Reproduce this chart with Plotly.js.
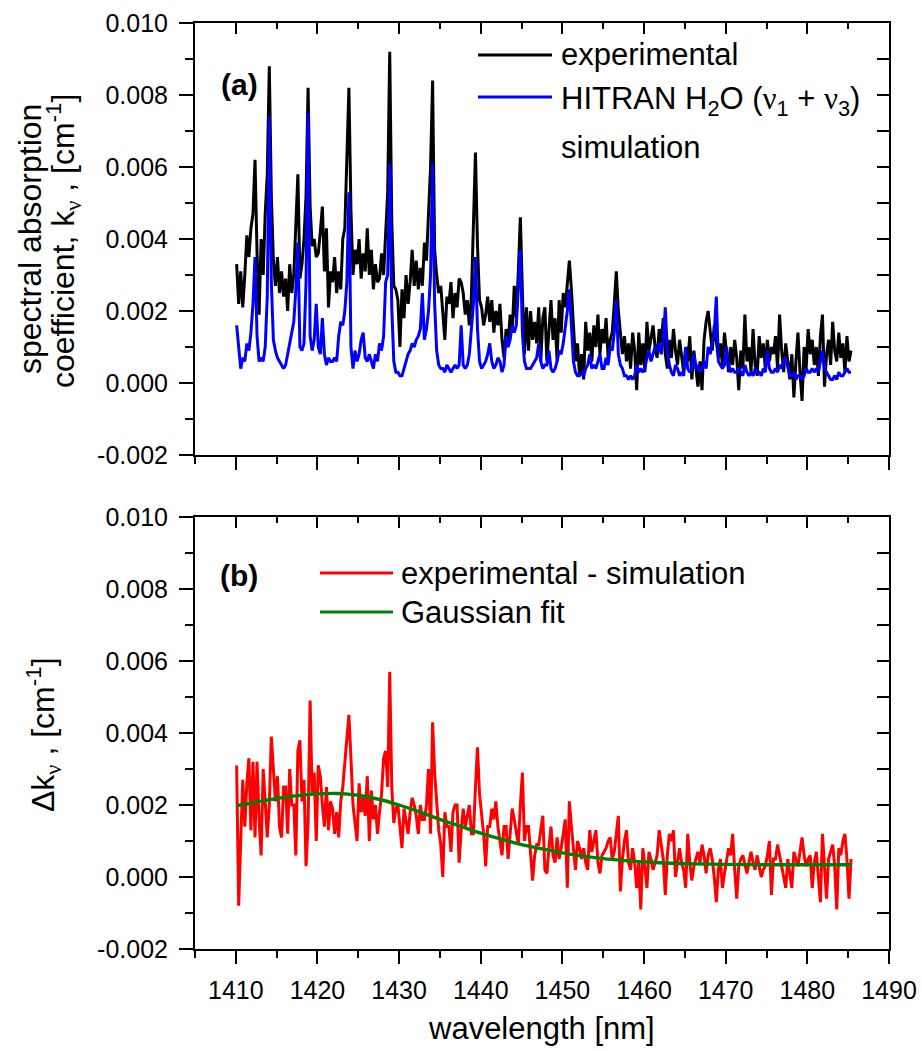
<!DOCTYPE html>
<html>
<head>
<meta charset="utf-8">
<script src="https://cdn.plot.ly/plotly-3.0.1.min.js"></script>
<style>html,body{margin:0;padding:0;background:#fff;}#chart{width:922px;height:1051px;}</style>
</head>
<body>
<div id="chart"></div>
<script>
// wavelength grid: first sample and spacing (nm)
const wlStart = 1410.1;
const wlStep = 0.25;

// (a) experimental spectral absorption coefficient [cm^-1], 4 samples per nm
const expY = [
0.0033,0.0022,0.0031,0.0021, 0.0030,0.0041,0.0035,0.0043, 0.0047,0.0062,0.0036,0.0019, 0.0040,0.0030,0.0047,0.0058,
0.0088,0.0052,0.0034,0.0027, 0.0035,0.0025,0.0031,0.0024, 0.0029,0.0020,0.0033,0.0025, 0.0030,0.0047,0.0058,0.0029,
0.0033,0.0040,0.0052,0.0082, 0.0049,0.0038,0.0040,0.0035, 0.0036,0.0042,0.0049,0.0031, 0.0043,0.0021,0.0031,0.0028,
0.0035,0.0025,0.0031,0.0026, 0.0040,0.0043,0.0060,0.0082, 0.0048,0.0030,0.0037,0.0033, 0.0040,0.0029,0.0036,0.0031,
0.0043,0.0030,0.0037,0.0026, 0.0033,0.0028,0.0029,0.0036, 0.0030,0.0044,0.0053,0.0092, 0.0045,0.0027,0.0026,0.0023,
0.0010,0.0026,0.0018,0.0030, 0.0022,0.0028,0.0037,0.0027, 0.0034,0.0026,0.0032,0.0027, 0.0039,0.0034,0.0049,0.0060,
0.0084,0.0037,0.0030,0.0025, 0.0027,0.0018,0.0012,0.0024, 0.0022,0.0028,0.0018,0.0025, 0.0021,0.0029,0.0028,0.0025,
0.0019,0.0023,0.0016,0.0024, 0.0042,0.0064,0.0038,0.0023, 0.0021,0.0016,0.0019,0.0024, 0.0017,0.0023,0.0014,0.0020,
0.0016,0.0022,0.0012,0.0007, 0.0015,0.0011,0.0019,0.0014, 0.0027,0.0018,0.0031,0.0046, 0.0025,0.0008,0.0021,0.0009,
0.0020,0.0012,0.0017,0.0011, 0.0021,0.0006,0.0018,0.0021, 0.0006,0.0015,0.0023,0.0012, 0.0018,0.0006,0.0023,0.0014,
0.0025,0.0021,0.0027,0.0034, 0.0026,0.0015,0.0006,0.0011, 0.0002,0.0008,0.0001,0.0017, 0.0009,0.0014,0.0006,0.0016,
0.0010,0.0019,0.0008,0.0015, 0.0011,0.0018,0.0007,0.0012, 0.0014,0.0022,0.0031,0.0020, 0.0014,0.0008,0.0013,0.0006,
0.0011,0.0004,0.0014,0.0009, -0.0002,0.0014,0.0005,0.0011, 0.0003,0.0017,0.0009,0.0012, 0.0016,0.0010,0.0007,0.0015,
0.0011,0.0018,0.0008,0.0004, 0.0012,0.0007,0.0015,0.0009, 0.0005,0.0012,0.0008,0.0003, 0.0010,0.0006,0.0013,0.0001,
0.0009,0.0004,-0.0001,0.0006, -0.0002,0.0012,0.0017,0.0020, 0.0014,0.0009,0.0016,0.0012, 0.0007,0.0011,0.0005,0.0014,
0.0009,0.0003,0.0010,0.0005, 0.0012,0.0007,-0.0002,0.0009, 0.0004,0.0019,0.0006,0.0010, 0.0003,0.0015,0.0005,0.0002,
0.0013,0.0007,0.0011,0.0004, 0.0012,0.0006,0.0010,0.0008, 0.0013,0.0004,0.0019,0.0009, 0.0003,0.0011,0.0006,0.0001,
0.0008,-0.0004,0.0006,0.0014, 0.0003,-0.0005,0.0010,0.0004, 0.0015,0.0008,0.0012,0.0005, 0.0010,0.0002,0.0013,0.0019,
-0.0001,0.0008,0.0012,0.0005, 0.0017,0.0009,0.0006,0.0014, 0.0007,0.0011,0.0003,0.0013, 0.0006,0.0009
];

// (a) HITRAN H2O (v1+v3) simulation
const simY = [
0.0016,0.0009,0.0004,0.0007, 0.0006,0.0011,0.0009,0.0014, 0.0022,0.0035,0.0013,0.0006, 0.0007,0.0006,0.0010,0.0024,
0.0074,0.0028,0.0012,0.0009, 0.0007,0.0006,0.0005,0.0004, 0.0005,0.0008,0.0012,0.0014, 0.0017,0.0026,0.0039,0.0010,
0.0009,0.0011,0.0028,0.0075, 0.0013,0.0009,0.0012,0.0022, 0.0010,0.0008,0.0018,0.0008, 0.0005,0.0007,0.0006,0.0006,
0.0007,0.0006,0.0013,0.0017, 0.0016,0.0020,0.0028,0.0053, 0.0010,0.0004,0.0009,0.0006, 0.0008,0.0012,0.0014,0.0007,
0.0006,0.0008,0.0006,0.0004, 0.0008,0.0006,0.0011,0.0009, 0.0013,0.0028,0.0030,0.0061, 0.0021,0.0006,0.0003,0.0003,
0.0002,0.0002,0.0004,0.0006, 0.0008,0.0009,0.0011,0.0010, 0.0012,0.0013,0.0015,0.0025, 0.0012,0.0015,0.0020,0.0030,
0.0061,0.0022,0.0009,0.0005, 0.0004,0.0004,0.0003,0.0005, 0.0004,0.0003,0.0004,0.0005, 0.0004,0.0005,0.0016,0.0005,
0.0004,0.0005,0.0008,0.0014, 0.0022,0.0035,0.0015,0.0006, 0.0004,0.0005,0.0006,0.0008, 0.0011,0.0006,0.0004,0.0005,
0.0007,0.0006,0.0003,0.0005, 0.0013,0.0010,0.0012,0.0016, 0.0014,0.0016,0.0025,0.0037, 0.0014,0.0006,0.0004,0.0004,
0.0004,0.0005,0.0006,0.0007, 0.0011,0.0006,0.0004,0.0005, 0.0005,0.0009,0.0004,0.0003, 0.0004,0.0006,0.0009,0.0008,
0.0011,0.0015,0.0020,0.0026, 0.0016,0.0006,0.0003,0.0002, 0.0002,0.0003,0.0002,0.0004, 0.0005,0.0008,0.0004,0.0005,
0.0004,0.0006,0.0008,0.0004, 0.0004,0.0007,0.0005,0.0010, 0.0009,0.0014,0.0023,0.0008, 0.0005,0.0004,0.0002,0.0002,
0.0001,0.0002,0.0001,0.0002, 0.0005,0.0003,0.0004,0.0003, 0.0004,0.0007,0.0009,0.0006, 0.0008,0.0010,0.0009,0.0011,
0.0008,0.0012,0.0021,0.0009, 0.0005,0.0003,0.0002,0.0005, 0.0004,0.0002,0.0003,0.0002, 0.0010,0.0004,0.0003,0.0004,
0.0008,0.0004,0.0005,0.0003, 0.0004,0.0006,0.0004,0.0010, 0.0008,0.0011,0.0014,0.0024, 0.0006,0.0005,0.0004,0.0005,
0.0010,0.0005,0.0003,0.0004, 0.0003,0.0003,0.0004,0.0003, 0.0002,0.0005,0.0003,0.0002, 0.0003,0.0002,0.0004,0.0003,
0.0003,0.0002,0.0004,0.0003, 0.0009,0.0004,0.0003,0.0003, 0.0004,0.0003,0.0005,0.0004, 0.0006,0.0007,0.0004,0.0002,
0.0002,0.0003,0.0001,0.0002, 0.0002,0.0001,0.0002,0.0004, 0.0003,0.0003,0.0004,0.0003, 0.0004,0.0003,0.0006,0.0009,
0.0004,0.0003,0.0002,0.0001, 0.0001,0.0002,0.0001,0.0003, 0.0002,0.0002,0.0003,0.0004, 0.0003,0.0003
];

// (b) experimental - simulation
const diffY = [
0.0031,-0.0008,0.0010,0.0027, 0.0014,0.0026,0.0033,0.0013, 0.0032,0.0011,0.0032,0.0016, 0.0006,0.0030,0.0021,0.0011,
0.0020,0.0039,0.0030,0.0021, 0.0028,0.0014,0.0011,0.0025, 0.0025,0.0012,0.0030,0.0020, 0.0020,0.0006,0.0035,0.0038,
0.0021,0.0027,0.0003,0.0015, 0.0049,0.0023,0.0029,0.0010, 0.0031,0.0028,0.0020,0.0014, 0.0025,0.0013,0.0021,0.0019,
0.0012,0.0018,0.0011,0.0021, 0.0025,0.0032,0.0038,0.0045, 0.0033,0.0020,0.0015,0.0010, 0.0026,0.0018,0.0022,0.0017,
0.0028,0.0010,0.0024,0.0016, 0.0020,0.0012,0.0018,0.0023, 0.0033,0.0035,0.0025,0.0057, 0.0025,0.0015,0.0019,0.0020,
0.0014,0.0008,0.0019,0.0015, 0.0012,0.0018,0.0022,0.0020, 0.0017,0.0012,0.0020,0.0016, 0.0016,0.0020,0.0030,0.0012,
0.0043,0.0029,0.0020,0.0013, 0.0009,0.0000,0.0018,0.0014, 0.0014,0.0007,0.0018,0.0020, 0.0020,0.0004,0.0013,0.0019,
0.0014,0.0017,0.0020,0.0012, 0.0012,0.0025,0.0036,0.0023, 0.0017,0.0012,0.0003,0.0014, 0.0014,0.0019,0.0016,0.0021,
0.0014,0.0010,0.0006,0.0014, 0.0014,0.0005,0.0011,0.0019, 0.0016,0.0012,0.0009,0.0020, 0.0029,0.0010,0.0014,0.0014,
0.0005,-0.0001,0.0006,0.0009, 0.0009,0.0013,0.0017,0.0002, 0.0001,0.0008,0.0014,0.0006, 0.0004,0.0011,0.0005,0.0008,
0.0012,0.0016,-0.0003,0.0021, 0.0014,0.0008,0.0002,0.0010, 0.0008,0.0005,0.0008,0.0004, 0.0002,0.0013,0.0007,0.0010,
0.0013,0.0004,0.0001,0.0006, 0.0007,0.0008,0.0010,0.0011, 0.0005,0.0007,0.0012,0.0017, -0.0004,0.0005,0.0010,0.0013,
0.0004,0.0002,0.0008,0.0004, -0.0003,0.0004,-0.0009,0.0008, 0.0003,-0.0003,0.0007,0.0005, 0.0002,0.0004,0.0006,0.0013,
0.0009,0.0005,-0.0005,0.0006, 0.0012,0.0010,0.0013,0.0000, 0.0004,0.0008,0.0004,0.0002, -0.0003,0.0012,0.0004,-0.0001,
0.0003,0.0005,0.0007,0.0004, 0.0009,0.0006,0.0001,0.0006, 0.0008,0.0005,0.0000,-0.0007, 0.0002,0.0005,-0.0003,0.0001,
0.0004,0.0008,0.0006,0.0012, 0.0002,-0.0006,0.0003,0.0005, 0.0006,0.0003,0.0001,0.0004, 0.0007,0.0004,0.0002,0.0006,
0.0003,0.0000,0.0002,0.0003, 0.0006,0.0010,-0.0005,0.0005, 0.0005,0.0009,0.0006,0.0003, 0.0000,-0.0003,0.0005,0.0001,
-0.0003,0.0007,0.0005,0.0003, 0.0007,0.0011,0.0006,0.0003, 0.0005,0.0006,-0.0003,0.0004, 0.0007,0.0001,-0.0007,0.0012,
0.0002,-0.0006,0.0005,0.0007, 0.0009,0.0003,-0.0009,0.0008, 0.0006,0.0010,0.0012,0.0005, -0.0006,0.0005
];

// (b) Gaussian fit
const gaussX = [1410.1,1412.5,1415,1417.5,1420,1422.5,1425,1427.5,1430,1432.5,1435,1437.5,1440,1442.5,1445,1447.5,1450,1452.5,1455,1457.5,1460,1462.5,1465,1467.5,1470,1475,1480,1485.4];
const gaussY = [0.00198,0.00208,0.00218,0.00226,0.00231,0.00232,0.00227,0.00216,0.00200,0.00181,0.00160,0.00141,0.00122,0.00105,0.00090,0.00078,0.00067,0.00058,0.00051,0.00046,0.00042,0.00039,0.00037,0.00036,0.00035,0.00034,0.00034,0.00034];

// axis ticks
const xRange = [1405, 1490];
const xTickVals = [1410,1420,1430,1440,1450,1460,1470,1480,1490];
const xTickText = ['1410','1420','1430','1440','1450','1460','1470','1480','1490'];
const yRange = [-0.002, 0.010];
const yTickVals = [-0.002,0,0.002,0.004,0.006,0.008,0.010];
const yTickText = ['-0.002','0.000','0.002','0.004','0.006','0.008','0.010'];

const FONT = 'Liberation Sans, Arial, Helvetica, sans-serif';
const SERIF = 'Liberation Serif';

function xAxisBase(extra) {
  return Object.assign({
    range: xRange, autorange: false, tickmode: 'array', tickvals: xTickVals, ticktext: xTickText,
    ticks: 'outside', ticklen: 13, tickwidth: 2, tickcolor: '#000',
    minor: {dtick: 5, tick0: 1405, ticks: 'outside', ticklen: 7, tickwidth: 2, tickcolor: '#000', showgrid: false},
    showline: true, linewidth: 2, linecolor: '#000', mirror: true,
    showgrid: false, zeroline: false,
    tickfont: {family: FONT, size: 25, color: '#000'}, ticklabelstandoff: 5
  }, extra);
}
function yAxisBase(extra) {
  return Object.assign({
    range: yRange, autorange: false, tickmode: 'array', tickvals: yTickVals, ticktext: yTickText,
    ticks: 'outside', ticklen: 14, tickwidth: 2, tickcolor: '#000',
    minor: {dtick: 0.001, tick0: 0, ticks: 'outside', ticklen: 8, tickwidth: 2, tickcolor: '#000', showgrid: false},
    showline: true, linewidth: 2, linecolor: '#000', mirror: true,
    showgrid: false, zeroline: false,
    tickfont: {family: FONT, size: 25, color: '#000'}, ticklabelstandoff: 6
  }, extra);
}
function xInner(over, anch) {
  return {overlaying: over, anchor: anch, side: 'top', range: xRange, autorange: false,
    tickmode: 'array', tickvals: xTickVals, ticks: 'inside', ticklen: 11, tickwidth: 2, tickcolor: '#000',
    minor: {dtick: 5, tick0: 1405, ticks: 'inside', ticklen: 6, tickwidth: 2, tickcolor: '#000', showgrid: false},
    showticklabels: false, showline: false, showgrid: false, zeroline: false};
}
function yInner(over, anch) {
  return {overlaying: over, anchor: anch, side: 'right', range: yRange, autorange: false,
    tickmode: 'array', tickvals: yTickVals, ticks: 'inside', ticklen: 12, tickwidth: 2, tickcolor: '#000',
    minor: {dtick: 0.001, tick0: 0, ticks: 'inside', ticklen: 12, tickwidth: 2, tickcolor: '#000', showgrid: false},
    showticklabels: false, showline: false, showgrid: false, zeroline: false};
}

const traces = [
  {type: 'scatter', mode: 'lines', x0: wlStart, dx: wlStep, y: expY, xaxis: 'x', yaxis: 'y',
   line: {color: '#000000', width: 3}, name: 'experimental'},
  {type: 'scatter', mode: 'lines', x0: wlStart, dx: wlStep, y: simY, xaxis: 'x', yaxis: 'y',
   line: {color: '#0000ff', width: 3}, name: 'HITRAN H2O simulation'},
  {type: 'scatter', mode: 'lines', x0: wlStart, dx: wlStep, y: diffY, xaxis: 'x2', yaxis: 'y2',
   line: {color: '#ff0000', width: 3}, name: 'experimental - simulation'},
  {type: 'scatter', mode: 'lines', x: gaussX, y: gaussY, xaxis: 'x2', yaxis: 'y2',
   line: {color: '#008000', width: 3.4, shape: 'spline'}, name: 'Gaussian fit'},
  // empty traces that carry the inward mirror ticks
  {type: 'scatter', x: [], y: [], xaxis: 'x3', yaxis: 'y', hoverinfo: 'skip'},
  {type: 'scatter', x: [], y: [], xaxis: 'x', yaxis: 'y3', hoverinfo: 'skip'},
  {type: 'scatter', x: [], y: [], xaxis: 'x4', yaxis: 'y2', hoverinfo: 'skip'},
  {type: 'scatter', x: [], y: [], xaxis: 'x2', yaxis: 'y4', hoverinfo: 'skip'}
];

// pixel -> paper helpers for decorations
const L = 195, R = 889, T = 23, B = 949;
const PX = p => (p - L) / (R - L);
const PY = p => (B - p) / (B - T);

function ann(text, px, py, opts) {
  return Object.assign({text: text, x: PX(px), y: PY(py), xref: 'paper', yref: 'paper',
    showarrow: false, xanchor: 'center', yanchor: 'middle',
    font: {family: FONT, size: 31, color: '#000'}}, opts || {});
}
const nu = '<span style="font-family:' + SERIF + '">ν</span>';

const annotations = [
  ann('spectral absorption', 30, 239, {textangle: -90, font: {family: FONT, size: 32, color: '#000'}}),
  ann('coefficient, k<sub>' + nu + '</sub> , [cm<sup>-1</sup>]', 63, 241, {textangle: -90, font: {family: FONT, size: 32, color: '#000'}}),
  ann('Δk<sub>' + nu + '</sub> , [cm<sup>-1</sup>]', 43, 735, {textangle: -90, font: {family: FONT, size: 32, color: '#000'}}),
  ann('wavelength [nm]', 541, 1028),
  ann('<b>(a)</b>', 239, 85, {font: {family: FONT, size: 30, color: '#000'}}),
  ann('<b>(b)</b>', 239, 575, {font: {family: FONT, size: 30, color: '#000'}}),
  ann('experimental', 559, 55, {xanchor: 'left'}),
  ann('HITRAN H<sub>2</sub>O (' + nu + '<sub>1</sub> + ' + nu + '<sub>3</sub>)', 559, 101, {xanchor: 'left'}),
  ann('simulation', 559, 147, {xanchor: 'left'}),
  ann('experimental - simulation', 399, 573, {xanchor: 'left'}),
  ann('Gaussian fit', 399, 612, {xanchor: 'left'})
];

function swatch(color, x0, x1, py) {
  return {type: 'line', xref: 'paper', yref: 'paper', x0: PX(x0), x1: PX(x1), y0: PY(py), y1: PY(py),
    line: {color: color, width: 3}};
}
const shapes = [
  swatch('#000000', 478, 552, 55),
  swatch('#0000ff', 478, 552, 97),
  swatch('#ff0000', 320, 393, 573),
  swatch('#008000', 320, 393, 612)
];

const topDomain = [PY(455), 1];
const botDomain = [0, PY(517)];

const layout = {
  width: 922, height: 1051,
  margin: {l: L, r: 922 - R, t: T, b: 1051 - B, pad: 0},
  paper_bgcolor: '#fff', plot_bgcolor: '#fff',
  showlegend: false,
  font: {family: FONT, color: '#000', size: 25},
  xaxis: xAxisBase({anchor: 'y', showticklabels: false}),
  yaxis: yAxisBase({anchor: 'x', domain: topDomain}),
  xaxis2: xAxisBase({anchor: 'y2'}),
  yaxis2: yAxisBase({anchor: 'x2', domain: botDomain}),
  xaxis3: xInner('x', 'y'),
  yaxis3: yInner('y', 'x'),
  xaxis4: xInner('x2', 'y2'),
  yaxis4: yInner('y2', 'x2'),
  annotations: annotations,
  shapes: shapes
};

Plotly.newPlot('chart', traces, layout, {displayModeBar: false, staticPlot: true});
</script>
</body>
</html>
